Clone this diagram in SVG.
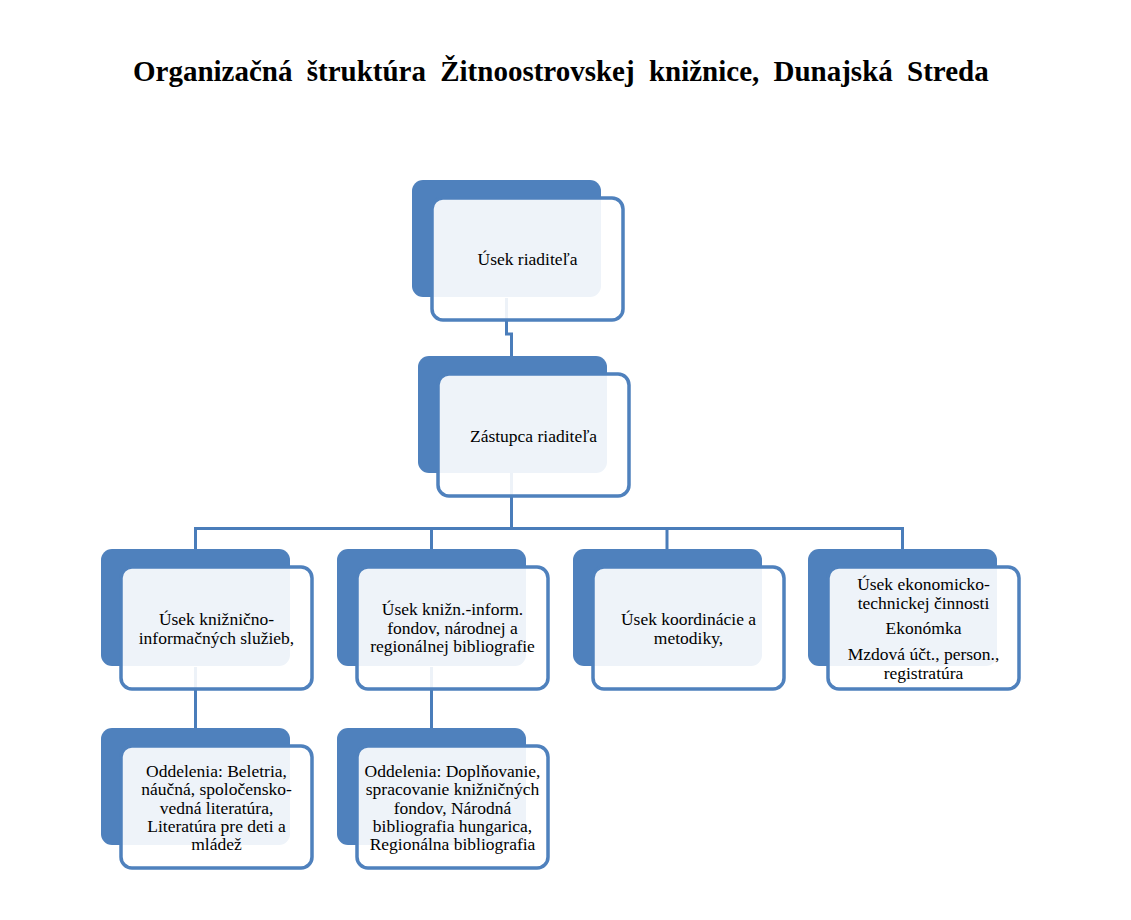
<svg xmlns="http://www.w3.org/2000/svg" width="1131" height="920" viewBox="0 0 1131 920">
<style>
.back{fill:#4F81BD;}
.front{fill:#FFFFFF;fill-opacity:0.9;stroke:#4F81BD;stroke-width:3.5;}
.conn{fill:none;stroke:#4A7DBA;stroke-width:3;}
.t{font-family:"Liberation Serif","Times New Roman",serif;font-size:17.5px;fill:#000;text-anchor:middle;}
.title{font-family:"Liberation Serif","Times New Roman",serif;font-size:29px;font-weight:bold;fill:#000;word-spacing:7px;}
</style>
<rect width="1131" height="920" fill="#FFFFFF"/>
<text class="title" x="133" y="81">Organizačná štruktúra Žitnoostrovskej knižnice, Dunajská Streda</text>
<g id="connectors">
<path class="conn" d="M506.5,298 V334 H511.5 V357"/>
<path class="conn" d="M511.5,473 V528.5"/>
<path class="conn" d="M195.5,549 V528.5 H902.5 V549"/>
<path class="conn" d="M431.5,528.5 V549"/>
<path class="conn" d="M667,528.5 V549"/>
<path class="conn" d="M195.5,667 V728"/>
<path class="conn" d="M431.5,667 V728"/>
</g>
<g id="n1">
<rect class="back" x="412" y="180" width="189" height="117" rx="11"/>
<rect class="front" x="432" y="198" width="191" height="122" rx="11"/>
<text class="t" x="527.5" y="265">Úsek riaditeľa</text>
</g>
<g id="n2">
<rect class="back" x="418" y="356" width="189" height="117" rx="11"/>
<rect class="front" x="438" y="374" width="191" height="122" rx="11"/>
<text class="t" x="533.5" y="442">Zástupca riaditeľa</text>
</g>
<g id="n3">
<rect class="back" x="101" y="549" width="189" height="117" rx="11"/>
<rect class="front" x="121" y="567" width="191" height="122" rx="11"/>
<text class="t" x="216.5" y="625">Úsek knižnično-</text>
<text class="t" x="216.5" y="643.5">informačných služieb,</text>
</g>
<g id="n4">
<rect class="back" x="337" y="549" width="189" height="117" rx="11"/>
<rect class="front" x="357" y="567" width="191" height="122" rx="11"/>
<text class="t" x="452.5" y="615">Úsek knižn.-inform.</text>
<text class="t" x="452.5" y="633.5">fondov, národnej a</text>
<text class="t" x="452.5" y="652">regionálnej bibliografie</text>
</g>
<g id="n5">
<rect class="back" x="573" y="549" width="189" height="117" rx="11"/>
<rect class="front" x="593" y="567" width="191" height="122" rx="11"/>
<text class="t" x="688.5" y="625">Úsek koordinácie a</text>
<text class="t" x="688.5" y="643.5">metodiky,</text>
</g>
<g id="n6">
<rect class="back" x="808" y="549" width="189" height="117" rx="11"/>
<rect class="front" x="828" y="567" width="191" height="122" rx="11"/>
<text class="t" x="923.5" y="590">Úsek ekonomicko-</text>
<text class="t" x="923.5" y="608.5">technickej činnosti</text>
<text class="t" x="923.5" y="634">Ekonómka</text>
<text class="t" x="923.5" y="660">Mzdová účt., person.,</text>
<text class="t" x="923.5" y="678.5">registratúra</text>
</g>
<g id="n7">
<rect class="back" x="101" y="728" width="189" height="117" rx="11"/>
<rect class="front" x="121" y="746" width="191" height="122" rx="11"/>
<text class="t" x="216.5" y="777">Oddelenia: Beletria,</text>
<text class="t" x="216.5" y="795.3">náučná, spoločensko-</text>
<text class="t" x="216.5" y="813.6">vedná literatúra,</text>
<text class="t" x="216.5" y="831.9">Literatúra pre deti a</text>
<text class="t" x="216.5" y="850.2">mládež</text>
</g>
<g id="n8">
<rect class="back" x="337" y="728" width="189" height="117" rx="11"/>
<rect class="front" x="357" y="746" width="191" height="122" rx="11"/>
<text class="t" x="452.5" y="777">Oddelenia: Doplňovanie,</text>
<text class="t" x="452.5" y="795.3">spracovanie knižničných</text>
<text class="t" x="452.5" y="813.6">fondov, Národná</text>
<text class="t" x="452.5" y="831.9">bibliografia hungarica,</text>
<text class="t" x="452.5" y="850.2">Regionálna bibliografia</text>
</g>
</svg>
